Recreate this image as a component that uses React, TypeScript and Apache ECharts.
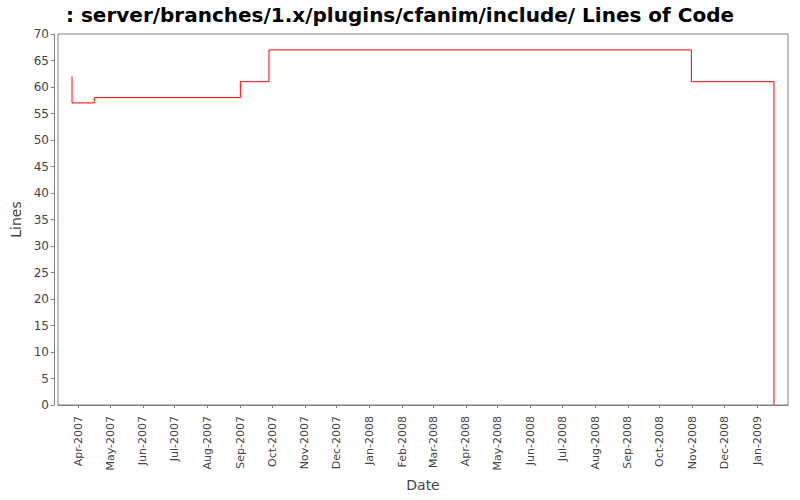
import * as echarts from 'echarts'
import { useEffect, useRef } from 'react'

const TITLE = ': server/branches/1.x/plugins/cfanim/include/ Lines of Code'
const MONTHS = ['Jan', 'Feb', 'Mar', 'Apr', 'May', 'Jun', 'Jul', 'Aug', 'Sep', 'Oct', 'Nov', 'Dec']

// commit dates and line counts
const dates = [
  '2007-03-26',
  '2007-03-26',
  '2007-04-16',
  '2007-09-01',
  '2007-09-28',
  '2008-10-31',
  '2009-01-17',
]
const lines = [62, 57, 58, 61, 67, 61, 0]

const DAY = 86400000

export default function App() {
  const ref = useRef<HTMLDivElement | null>(null)

  useEffect(() => {
    if (!ref.current) {
      return
    }
    const chart = echarts.init(ref.current, undefined, { renderer: 'svg' })

    const times = dates.map((d) => Date.parse(d + 'T00:00:00Z'))
    const first = times[0]
    const last = times[times.length - 1]
    const pad = (last - first) * 0.02

    chart.setOption({
      animation: false,
      useUTC: true,
      backgroundColor: '#ffffff',
      textStyle: { fontFamily: 'DejaVu Sans' },
      title: {
        text: TITLE,
        left: 'center',
        top: 0,
        textStyle: { fontSize: 20, fontWeight: 'bold', color: '#000000', fontFamily: 'DejaVu Sans' },
      },
      grid: {
        left: 58,
        right: 12,
        top: 34,
        bottom: 95,
        outerBoundsMode: 'none',
        containLabel: false,
        show: true,
        borderColor: '#808080',
        borderWidth: 1,
        backgroundColor: '#ffffff',
      },
      xAxis: {
        type: 'time',
        min: first - pad,
        max: last + pad,
        minInterval: 28 * DAY,
        maxInterval: 31 * DAY,
        offset: 4,
        name: 'Date',
        nameLocation: 'middle',
        nameGap: 69,
        nameTextStyle: { fontSize: 14, color: '#444444' },
        axisLine: { show: true, lineStyle: { color: '#808080' } },
        axisTick: { show: true, length: 3, lineStyle: { color: '#808080' } },
        splitLine: { show: false },
        axisLabel: {
          rotate: 90,
          fontSize: 11,
          color: '#444444',
          margin: 7,
          showMinLabel: false,
          showMaxLabel: false,
          hideOverlap: false,
          formatter: (v: number) => {
            const d = new Date(v)
            return MONTHS[d.getUTCMonth()] + '-' + d.getUTCFullYear()
          },
        },
      },
      yAxis: {
        type: 'value',
        min: 0,
        max: 70,
        interval: 5,
        offset: 4,
        name: 'Lines',
        nameLocation: 'middle',
        nameGap: 26,
        nameTextStyle: { fontSize: 14, color: '#444444' },
        axisLine: { show: true, lineStyle: { color: '#808080' } },
        axisTick: { show: true, length: 3, lineStyle: { color: '#808080' } },
        splitLine: { show: false },
        axisLabel: { fontSize: 12, color: '#444444', margin: 5 },
      },
      series: [
        {
          type: 'line',
          step: 'end',
          data: times.map((t, i) => [t, lines[i]]),
          showSymbol: false,
          symbol: 'none',
          lineStyle: { color: '#ff0000', width: 1 },
        },
      ],
    })

    return () => {
      chart.dispose()
    }
  }, [])

  return <div ref={ref} style={{ position: 'fixed', left: 0, top: 0, width: 800, height: 500 }} />
}
